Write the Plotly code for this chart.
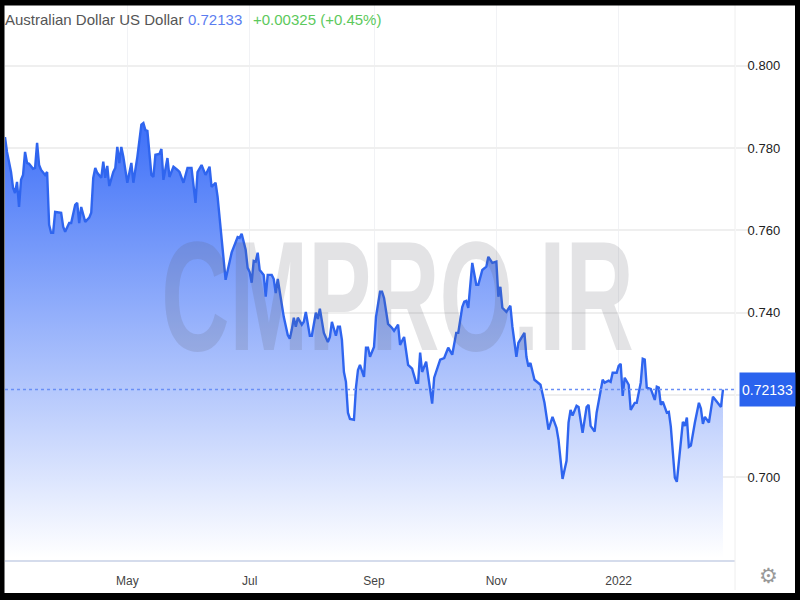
import datetime as dt
import plotly.graph_objects as go

start_date = dt.date(2021, 3, 1)
day_offsets = [0,1,3,4,5,6,7,8,9,10,11,12,14,15,16,17,18,20,21,22,23,24,25,27,28,29,30,32,33,35,36,37,38,40,42,43,44,45,46,48,49,50,51,52,54,55,56,57,58,59,61,63,64,66,68,69,70,71,73,74,75,77,78,79,81,82,84,86,87,89,91,93,95,96,98,100,102,103,105,106,110,113,116,117,118,120,121,122,123,124,125,126,127,129,130,131,133,134,135,136,138,139,141,142,143,144,145,146,148,149,150,152,153,155,156,157,159,161,162,163,165,166,167,168,169,170,171,172,174,175,176,177,179,180,181,182,184,185,187,188,189,191,193,194,196,197,199,201,203,205,206,207,208,210,213,214,217,219,221,223,225,226,228,229,230,231,233,235,236,238,240,241,243,245,246,247,248,250,252,253,255,256,259,260,261,262,264,267,269,271,273,275,276,278,280,281,282,283,285,286,288,290,291,292,294,295,298,299,301,302,303,305,306,307,308,309,311,312,314,315,317,318,319,320,322,324,325,326,327,328,330,331,332,334,335,338,339,340,341,342,344,346,347,348,349,351,353,355,357,358]
rates = [.7827,.7791,.7742,.7704,.7691,.7718,.7657,.7723,.7735,.7791,.7764,.7762,.7750,.7752,.7813,.7759,.7747,.7735,.7742,.7614,.7594,.7594,.7645,.7643,.7643,.7609,.7597,.7618,.7618,.7662,.7667,.7618,.7657,.7621,.7631,.7643,.7728,.7752,.7740,.7728,.7767,.7728,.7757,.7708,.7742,.7752,.7803,.7764,.7803,.7779,.7716,.7764,.7716,.7779,.7857,.7861,.7844,.7842,.7735,.7730,.7784,.7786,.7798,.7723,.7776,.7730,.7755,.7747,.7742,.7716,.7752,.7752,.7667,.7742,.7759,.7735,.7755,.7706,.7716,.7682,.7480,.7546,.7584,.7582,.7592,.7553,.7509,.7499,.7473,.7526,.7524,.7546,.7504,.7492,.7439,.7492,.7492,.7482,.7448,.7482,.7412,.7390,.7346,.7337,.7359,.7388,.7366,.7388,.7371,.7378,.7402,.7344,.7344,.7400,.7385,.7410,.7351,.7329,.7341,.7378,.7344,.7366,.7366,.7334,.7256,.7232,.7157,.7142,.7140,.7218,.7261,.7273,.7244,.7315,.7315,.7293,.7317,.7390,.7451,.7451,.7436,.7373,.7363,.7356,.7371,.7322,.7341,.7273,.7264,.7230,.7230,.7303,.7256,.7281,.7179,.7242,.7286,.7290,.7315,.7298,.7351,.7351,.7414,.7427,.7429,.7412,.7521,.7468,.7468,.7504,.7512,.7536,.7521,.7524,.7439,.7463,.7412,.7402,.7417,.7366,.7293,.7327,.7351,.7293,.7269,.7278,.7237,.7225,.7181,.7116,.7147,.7120,.7091,.6996,.7040,.7133,.7164,.7150,.7174,.7171,.7108,.7171,.7176,.7125,.7111,.7157,.7237,.7230,.7235,.7232,.7254,.7254,.7271,.7276,.7198,.7242,.7225,.7164,.7181,.7181,.7230,.7288,.7286,.7218,.7215,.7188,.7220,.7218,.7176,.7184,.7157,.7159,.7123,.6999,.6989,.7135,.7125,.7145,.7074,.7077,.7133,.7181,.7167,.7130,.7147,.7133,.7196,.7184,.7171,.72133]

x_tick_dates = ["2021-05-01", "2021-07-01", "2021-09-01", "2021-11-01", "2022-01-01"]
x_tick_labels = ["May", "Jul", "Sep", "Nov", "2022"]
y_tick_values = [0.70, 0.72, 0.74, 0.76, 0.78, 0.80]
y_tick_labels = ["0.700", "", "0.740", "0.760", "0.780", "0.800"]
last_price = "0.72133"
change_text = "+0.00325 (+0.45%)"
title_text = "Australian Dollar US Dollar"

dates = [start_date + dt.timedelta(days=d) for d in day_offsets]

W, H = 800, 600
L, R, T, B = 5, 735, 5, 560
def px(x): return (x - L) / (R - L)
def py(y): return (B - y) / (B - T)

FONT = "Liberation Sans"
fig = go.Figure(go.Scatter(
    x=dates, y=rates, mode="lines", hoverinfo="skip",
    line=dict(color="#2f65ef", width=2.4),
    fill="tozeroy",
    fillgradient=dict(type="vertical", start=0.6805, stop=0.7861,
                      colorscale=[[0, "rgba(255,255,255,1)"], [1, "rgba(62,112,248,1)"]]),
))

shapes = [
    dict(type="line", xref="paper", yref="y", x0=0, x1=1,
         y0=float(last_price), y1=float(last_price),
         line=dict(color="#6a8ff5", width=1.5, dash="dot")),
    dict(type="line", xref="paper", yref="paper", x0=1, x1=1, y0=py(590), y1=1,
         line=dict(color="#eeeeee", width=1)),
]
for x0, x1, y0, y1 in [(0, 4.5, 0, 600), (795, 800, 0, 600), (0, 800, 0, 5.5), (0, 800, 593, 600)]:
    shapes.append(dict(type="rect", xref="paper", yref="paper", layer="above",
                       x0=px(x0), x1=px(x1), y0=py(y1), y1=py(y0),
                       fillcolor="black", line=dict(width=0)))

def note(text, x, y, size, color, xanchor="left", yanchor="middle", weight="normal", family=FONT, **kw):
    return dict(text=text, xref="paper", yref="paper", x=px(x), y=py(y), showarrow=False,
                xanchor=xanchor, yanchor=yanchor,
                font=dict(family=family, size=size, color=color, weight=weight), **kw)

annotations = [
    note(title_text, 4, 20, 15, "#555555", xshift=-1),
    note(last_price, 186, 20, 15, "#5b7df0"),
    note(change_text, 251, 20, 15, "#5cc95c"),
    note("CMPRO.IR", 398, 296, 155, "rgba(90,90,100,0.17)", xanchor="center", weight="bold"),
    dict(text=last_price, xref="paper", yref="y", x=px(739), y=float(last_price), yshift=0,
         showarrow=False, xanchor="left", yanchor="middle", width=55, height=33,
         bgcolor="#2a63ee", borderpad=0, align="center",
         font=dict(family=FONT, size=14, color="white")),
    note("\u2699", 768, 576, 21, "#999999", xanchor="center", family="DejaVu Sans"),
]

fig.update_layout(
    width=W, height=H, autosize=False, showlegend=False,
    margin=dict(l=L, r=W - R, t=T, b=H - B, pad=0),
    paper_bgcolor="white", plot_bgcolor="white",
    shapes=shapes, annotations=annotations,
    font=dict(family=FONT),
    xaxis=dict(type="date", range=["2021-03-01", "2022-02-28"],
               tickmode="array", tickvals=x_tick_dates, ticktext=x_tick_labels,
               showgrid=True, gridcolor="#f1f2f5", gridwidth=1, zeroline=False,
               showline=True, linecolor="#d5dcec", linewidth=2, ticks="",
               tickfont=dict(size=12, color="#444444"), tickangle=0, ticklabelstandoff=9),
    yaxis=dict(side="right", range=[0.6799, 0.8148],
               tickmode="array", tickvals=y_tick_values, ticktext=y_tick_labels,
               showgrid=True, gridcolor="#efefef", gridwidth=2, zeroline=False,
               showline=False, ticks="outside", ticklen=12, tickcolor="#efefef", tickwidth=2,
               ticklabelstandoff=-3,
               tickfont=dict(size=13, color="#222222")),
)

post = """
document.body.style.margin='0';
function squeeze(){
  document.querySelectorAll('.annotation-text').forEach(function(t){
    if(t.textContent==='CMPRO.IR'){
      t.style.transformBox='fill-box';
      t.style.transformOrigin='center';
      t.style.transform='scaleX(0.61)';
    }
  });
}
squeeze(); setTimeout(squeeze,50); setTimeout(squeeze,300);
"""
fig.write_html("out.html", post_script=post, config=dict(displayModeBar=False))
